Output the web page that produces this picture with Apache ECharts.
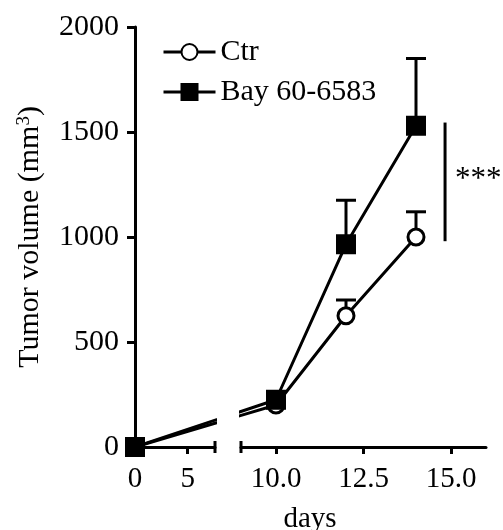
<!DOCTYPE html>
<html>
<head>
<meta charset="utf-8">
<script src="https://cdn.jsdelivr.net/npm/echarts@6/dist/echarts.min.js"></script>
<style>
  html, body { margin: 0; background: #fff; }
  #chart { width: 503px; height: 530px; }
</style>
</head>
<body>
<div id="chart"></div>
<script>
const days = [0, 10, 12, 14];
const ctrMean = [0, 200, 625, 1000];
const ctrUpper = [0, 200, 700, 1120];
const bayMean = [0, 225, 965, 1530];
const bayUpper = [0, 225, 1175, 1850];
const yTicks = [0, 500, 1000, 1500, 2000];
const leftTicks = [0, 5];
const rightTicks = [10, 12.5, 15];
const sigDay = 14.83;
const sigSpan = [980, 1545];

const font = "'Liberation Serif', 'Times New Roman', serif";
const fs = 29;

// two panels of the broken x axis
const L = {left: 135, width: 80, min: 0, max: 7.6};
const R = {left: 241, width: 245, min: 9, max: 16};
const toPx = (a, v) => a.left + (v - a.min) / (a.max - a.min) * a.width;
const fromPx = (a, p) => a.min + (p - a.left) / a.width * (a.max - a.min);
// keep the line straight across the break: put each day in the other panel's units
const inL = d => d <= L.max ? d : fromPx(L, toPx(R, d));
const inR = d => d >= R.min ? d : fromPx(R, toPx(L, d));

const chart = echarts.init(document.getElementById('chart'));

const xAxisBase = (a, ticks, fmt) => ({
    type: 'value',
    min: a.min,
    max: a.max,
    splitLine: {show: false},
    axisLine: {lineStyle: {color: '#000', width: 3}},
    axisTick: {length: 7, lineStyle: {color: '#000', width: 3}, customValues: ticks},
    axisLabel: {
        customValues: ticks, margin: 18, color: '#000',
        fontFamily: font, fontSize: fs, formatter: fmt
    }
});

const lineSeries = (name, grid, conv, mean, symbol, size, fill) => ({
    name: name,
    type: 'line',
    xAxisIndex: grid,
    yAxisIndex: grid,
    data: days.map((d, i) => [conv(d), mean[i]]),
    symbol: symbol,
    symbolSize: size,
    clip: true,
    z: 3,
    lineStyle: {color: '#000', width: 3},
    itemStyle: {color: fill, borderColor: '#000', borderWidth: 3},
    animation: false
});

const errorSeries = (mean, upper) => ({
    type: 'custom',
    xAxisIndex: 1,
    yAxisIndex: 1,
    z: 2,
    data: days.map((d, i) => [d, mean[i], upper[i]]).filter(r => r[2] > r[1]),
    renderItem: (params, api) => {
        const p0 = api.coord([api.value(0), api.value(1)]);
        const p1 = api.coord([api.value(0), api.value(2)]);
        const st = {stroke: '#000', lineWidth: 3};
        return {
            type: 'group',
            children: [
                {type: 'line', shape: {x1: p0[0], y1: p0[1], x2: p1[0], y2: p1[1]}, style: st},
                {type: 'line', shape: {x1: p1[0] - 10, y1: p1[1], x2: p1[0] + 10, y2: p1[1]}, style: st}
            ]
        };
    },
    animation: false
});

// small end caps where the x axis is broken
const capSeries = (grid, x) => ({
    type: 'custom',
    xAxisIndex: grid,
    yAxisIndex: grid,
    data: [[x, 0]],
    renderItem: (params, api) => {
        const p = api.coord([api.value(0), api.value(1)]);
        return {
            type: 'line',
            shape: {x1: p[0], y1: p[1] - 6, x2: p[0], y2: p[1] + 6},
            style: {stroke: '#000', lineWidth: 3}
        };
    },
    animation: false
});

chart.setOption({
    animation: false,
    grid: [
        {left: L.left, width: L.width, top: 27, bottom: 83},
        {left: R.left, width: R.width, top: 27, bottom: 83}
    ],
    title: {
        text: 'days', left: 310, top: 505, padding: 0, textAlign: 'center',
        textStyle: {fontFamily: font, fontSize: fs, fontWeight: 'normal', color: '#000'}
    },
    legend: {
        orient: 'vertical',
        left: 162,
        top: 37,
        padding: 0,
        itemWidth: 52,
        itemHeight: 20,
        itemGap: 10,
        data: ['Ctr', 'Bay 60-6583'],
        lineStyle: {width: 3, color: '#000'},
        textStyle: {fontFamily: font, fontSize: 30, color: '#000'}
    },
    xAxis: [
        xAxisBase(L, leftTicks, v => String(v)),
        Object.assign(xAxisBase(R, rightTicks, v => v.toFixed(1)), {gridIndex: 1})
    ],
    yAxis: [
        {
            type: 'value',
            min: 0,
            max: 2000,
            interval: 500,
            splitLine: {show: false},
            axisLine: {show: true, lineStyle: {color: '#000', width: 3}},
            axisTick: {length: 8, lineStyle: {color: '#000', width: 3}, customValues: yTicks},
            axisLabel: {
                margin: 16, color: '#000', fontFamily: font, fontSize: 30,
                customValues: yTicks, formatter: v => String(v)
            },
            name: 'Tumor volume (mm{sup|3})',
            nameLocation: 'middle',
            nameRotate: 90,
            nameGap: 90,
            nameTextStyle: {
                fontFamily: font, fontSize: 30, color: '#000',
                rich: {sup: {fontFamily: font, fontSize: 19, color: '#000', verticalAlign: 'top'}}
            }
        },
        {type: 'value', gridIndex: 1, min: 0, max: 2000, show: false}
    ],
    series: [
        errorSeries(ctrMean, ctrUpper),
        errorSeries(bayMean, bayUpper),
        lineSeries('Ctr', 0, inL, ctrMean, 'circle', 16, '#fff'),
        lineSeries('Bay 60-6583', 0, inL, bayMean, 'rect', 17, '#000'),
        lineSeries('Ctr', 1, inR, ctrMean, 'circle', 16, '#fff'),
        lineSeries('Bay 60-6583', 1, inR, bayMean, 'rect', 17, '#000'),
        capSeries(0, L.max),
        capSeries(1, R.min),
        {
            type: 'custom',
            xAxisIndex: 1,
            yAxisIndex: 1,
            data: [[sigDay, sigSpan[0], sigSpan[1]]],
            renderItem: (params, api) => {
                const a = api.coord([api.value(0), api.value(1)]);
                const b = api.coord([api.value(0), api.value(2)]);
                return {
                    type: 'group',
                    children: [
                        {type: 'line', shape: {x1: a[0], y1: a[1], x2: b[0], y2: b[1]}, style: {stroke: '#000', lineWidth: 3}},
                        {type: 'text', x: a[0] + 10, y: (a[1] + b[1]) / 2 - 2,
                         style: {text: '***', fontFamily: font, fontSize: 31, fill: '#000', verticalAlign: 'middle'}}
                    ]
                };
            },
            animation: false
        }
    ]
});
</script>
</body>
</html>
